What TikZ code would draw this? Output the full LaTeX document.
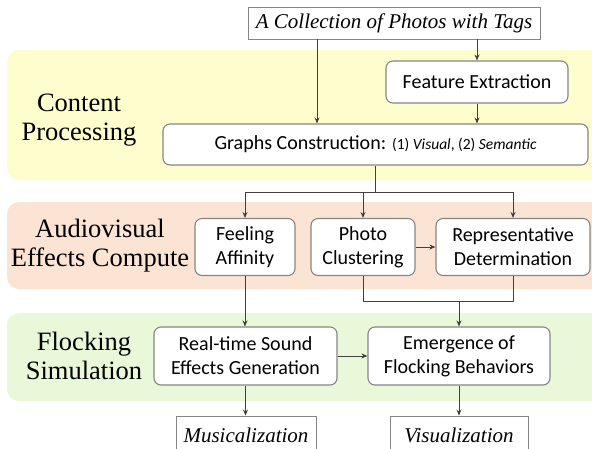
\documentclass[tikz,border=0pt]{standalone}
\usepackage{fontspec}
\setmainfont{Liberation Serif}
\newfontfamily\boxfont{Carlito}
\usetikzlibrary{arrows.meta}
\definecolor{bandY}{HTML}{FEFDCD}
\definecolor{bandO}{HTML}{FCE4D4}
\definecolor{bandG}{HTML}{E9F8D8}
\definecolor{boxgray}{HTML}{858585}
\definecolor{arrgray}{HTML}{404040}
\tikzset{
  band/.style={rounded corners=12pt},
  proc/.style={draw=boxgray, line width=1.1pt, rounded corners=7pt, fill=white,
    font=\boxfont\fontsize{20}{24}\selectfont, align=center, inner sep=0pt},
  io/.style={draw=boxgray, line width=0.9pt, fill=white,
    font=\itshape\fontsize{21}{25}\selectfont, inner sep=0pt},
  lab/.style={font=\fontsize{26.5}{29}\selectfont, align=center, inner sep=0pt},
  arr/.style={draw=arrgray, line width=0.9pt, -{Stealth[length=6pt,width=5pt]}},
  ln/.style={draw=arrgray, line width=0.9pt},
}
\begin{document}
\begin{tikzpicture}[x=1pt,y=-1pt]
\clip (0,0) rectangle (592,448);
\fill[white] (0,0) rectangle (592,448);
% bands
\fill[band, bandY] (7,50) rectangle (625,180);
\fill[band, bandO] (7,202) rectangle (625,289);
\fill[band, bandG] (7,313) rectangle (625,401);
% band labels
\node[lab] (lc) at (79,120) {Content\\Processing};
\node[lab] (la) at (100,246) {Audiovisual\\Effects Compute};
\node[lab] (lf) at (84,356) {Flocking\\Simulation};
% nodes
\node[io, minimum width=292pt, minimum height=32pt] (top) at (394,23) {A Collection of Photos with Tags};
\node[proc, minimum width=182pt, minimum height=42pt] (feat) at (477,82) {Feature Extraction};
\node[proc, minimum width=425pt, minimum height=41pt] (graphs) at (375.5,144.5)
  {Graphs Construction: {\fontsize{15.5}{18}\selectfont (1) \textit{Visual}, (2) \textit{Semantic}}};
\node[proc, minimum width=100pt, minimum height=57pt] (feel) at (245,247) {Feeling\\Affinity};
\node[proc, minimum width=104pt, minimum height=57pt] (photo) at (363,247) {Photo\\Clustering};
\node[proc, minimum width=154pt, minimum height=57pt] (repr) at (513,247) {Representative\\Determination};
\node[proc, minimum width=183pt, minimum height=58pt] (rt) at (245.5,356) {Real-time Sound\\Effects Generation};
\node[proc, minimum width=182pt, minimum height=58pt] (emer) at (459,356) {Emergence of\\Flocking Behaviors};
\node[io, minimum width=140pt, minimum height=38pt] (mus) at (246,435) {Musicalization};
\node[io, minimum width=138pt, minimum height=38pt] (vis) at (459,435) {Visualization};
% helper coordinates
\coordinate (cx) at (317,0);
\coordinate (br) at (0,192);
\coordinate (jn) at (0,301);
% connectors
\draw[arr] (cx |- top.south) -- (cx |- graphs.north);
\draw[arr] (feat.north |- top.south) -- (feat.north);
\draw[arr] (feat.south) -- (feat.south |- graphs.north);
\draw[ln] (graphs.south) -- (graphs.south |- br);
\draw[ln] (feel.north |- br) -- (repr.north |- br);
\draw[arr] (feel.north |- br) -- (feel.north);
\draw[arr] (photo.north |- br) -- (photo.north);
\draw[arr] (repr.north |- br) -- (repr.north);
\draw[arr] (photo.east) -- (repr.west);
\draw[ln] (photo.south) -- (photo.south |- jn) -- (repr.south |- jn) -- (repr.south);
\draw[arr] (emer.north |- jn) -- (emer.north);
\draw[arr] (feel.south) -- (feel.south |- rt.north);
\draw[arr] (rt.east) -- (emer.west);
\draw[arr] (rt.south) -- (rt.south |- mus.north);
\draw[arr] (emer.south) -- (emer.south |- vis.north);
\end{tikzpicture}
\end{document}
